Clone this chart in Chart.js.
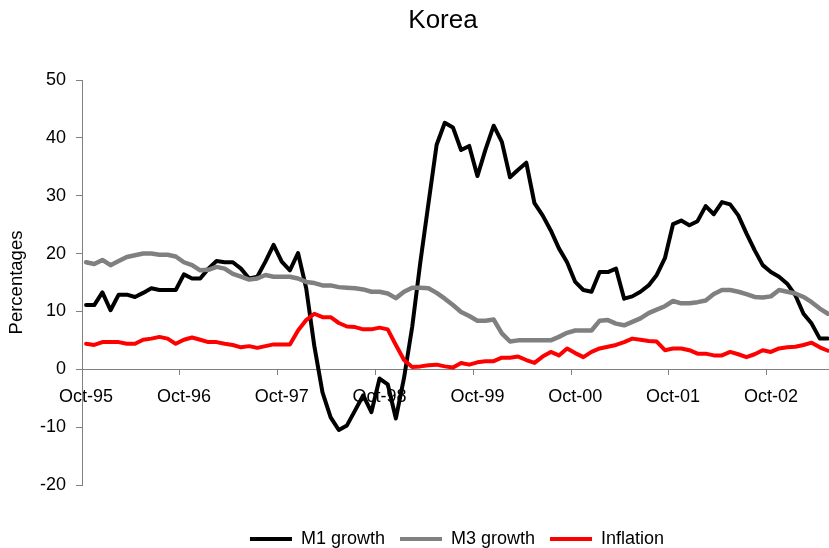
<!DOCTYPE html>
<html>
<head>
<meta charset="utf-8">
<script src="https://cdn.jsdelivr.net/npm/chart.js@4/dist/chart.umd.min.js"></script>
<style>
  html, body { margin: 0; padding: 0; background: #ffffff; overflow: hidden; }
  #wrap { width: 840px; height: 548px; }
</style>
</head>
<body>
<div id="wrap"><canvas id="c" width="840" height="548"></canvas></div>
<script>
const chartTitle = 'Korea';
const yAxisTitle = 'Percentages';

const categories = [
  'Oct-95','Nov-95','Dec-95',
  'Jan-96','Feb-96','Mar-96','Apr-96','May-96','Jun-96','Jul-96','Aug-96','Sep-96','Oct-96','Nov-96','Dec-96',
  'Jan-97','Feb-97','Mar-97','Apr-97','May-97','Jun-97','Jul-97','Aug-97','Sep-97','Oct-97','Nov-97','Dec-97',
  'Jan-98','Feb-98','Mar-98','Apr-98','May-98','Jun-98','Jul-98','Aug-98','Sep-98','Oct-98','Nov-98','Dec-98',
  'Jan-99','Feb-99','Mar-99','Apr-99','May-99','Jun-99','Jul-99','Aug-99','Sep-99','Oct-99','Nov-99','Dec-99',
  'Jan-00','Feb-00','Mar-00','Apr-00','May-00','Jun-00','Jul-00','Aug-00','Sep-00','Oct-00','Nov-00','Dec-00',
  'Jan-01','Feb-01','Mar-01','Apr-01','May-01','Jun-01','Jul-01','Aug-01','Sep-01','Oct-01','Nov-01','Dec-01',
  'Jan-02','Feb-02','Mar-02','Apr-02','May-02','Jun-02','Jul-02','Aug-02','Sep-02','Oct-02','Nov-02','Dec-02',
  'Jan-03','Feb-03','Mar-03','Apr-03','May-03'
];

const m1Growth = [
  11.1, 11.1, 13.3, 10.2, 12.9, 12.9, 12.5, 13.2, 14.0, 13.7, 13.7, 13.7,
  16.4, 15.7, 15.7, 17.4, 18.7, 18.5, 18.5, 17.4, 15.7, 16.0, 18.6, 21.5,
  18.6, 17.1, 20.1, 14.0, 4.0, -4.0, -8.3, -10.5, -9.7, -7.1, -4.5, -7.4,
  -1.6, -2.6, -8.5, -1.5, 7.3, 18.5, 28.7, 38.8, 42.6, 41.8, 37.9, 38.6,
  33.4, 38.0, 42.1, 39.3, 33.2, 34.5, 35.7, 28.7, 26.6, 24.0, 20.9, 18.5,
  15.1, 13.7, 13.4, 16.8, 16.8, 17.4, 12.2, 12.6, 13.4, 14.5, 16.3, 19.2,
  25.1, 25.7, 24.9, 25.6, 28.2, 26.8, 28.9, 28.5, 26.6, 23.5, 20.6, 18.0,
  16.8, 16.0, 14.8, 12.8, 9.6, 7.9, 5.3, 5.3
];

const m3Growth = [
  18.5, 18.2, 18.9, 18.0, 18.7, 19.4, 19.7, 20.0, 20.0, 19.8, 19.8, 19.5,
  18.5, 18.0, 17.1, 17.2, 17.7, 17.4, 16.5, 16.0, 15.5, 15.7, 16.3, 16.0,
  16.0, 16.0, 15.7, 15.1, 14.9, 14.5, 14.5, 14.2, 14.1, 14.0, 13.8, 13.4,
  13.4, 13.1, 12.3, 13.4, 14.1, 14.1, 14.0, 13.2, 12.2, 11.1, 9.9, 9.2,
  8.4, 8.4, 8.6, 6.2, 4.8, 5.0, 5.0, 5.0, 5.0, 5.0, 5.6, 6.3,
  6.7, 6.7, 6.7, 8.4, 8.5, 7.9, 7.6, 8.2, 8.8, 9.7, 10.3, 10.9,
  11.8, 11.4, 11.4, 11.6, 11.9, 13.0, 13.7, 13.7, 13.4, 13.0, 12.5, 12.4,
  12.6, 13.7, 13.4, 13.1, 12.5, 11.6, 10.5, 9.6
];

const inflation = [
  4.4, 4.2, 4.7, 4.7, 4.7, 4.4, 4.4, 5.1, 5.3, 5.6, 5.3, 4.4,
  5.1, 5.5, 5.1, 4.7, 4.7, 4.4, 4.2, 3.8, 4.0, 3.7, 4.0, 4.3,
  4.3, 4.3, 6.7, 8.5, 9.6, 9.0, 9.0, 8.0, 7.4, 7.3, 6.9, 6.9,
  7.2, 6.9, 4.2, 1.6, 0.4, 0.5, 0.7, 0.8, 0.5, 0.3, 1.1, 0.8,
  1.2, 1.4, 1.4, 2.0, 2.0, 2.2, 1.6, 1.1, 2.2, 3.0, 2.4, 3.6,
  2.8, 2.1, 3.0, 3.6, 3.9, 4.2, 4.7, 5.3, 5.1, 4.9, 4.8, 3.3,
  3.6, 3.6, 3.3, 2.7, 2.7, 2.4, 2.4, 3.0, 2.6, 2.1, 2.6, 3.3,
  3.0, 3.6, 3.8, 3.9, 4.2, 4.6, 3.8, 3.2
];

const yMin = -20, yMax = 50, yStep = 10;
const labelEvery = 12;

const FONT_FAMILY = '"Liberation Sans", Arial, Helvetica, sans-serif';
const AXIS_GRAY = '#808080';

const titlePlugin = {
  id: 'koreaTitle',
  afterDraw(chart) {
    const ctx = chart.ctx;
    ctx.save();
    ctx.font = '26px ' + FONT_FAMILY;
    ctx.fillStyle = '#000000';
    ctx.textAlign = 'center';
    ctx.textBaseline = 'middle';
    ctx.fillText(chartTitle, 443, 21);
    ctx.restore();
  }
};

new Chart(document.getElementById('c'), {
  type: 'line',
  data: {
    labels: categories,
    datasets: [
      { label: 'M1 growth', data: m1Growth, borderColor: '#000000', backgroundColor: '#000000', borderWidth: 4, order: 3 },
      { label: 'M3 growth', data: m3Growth, borderColor: '#808080', backgroundColor: '#808080', borderWidth: 4.5, order: 2 },
      { label: 'Inflation', data: inflation, borderColor: '#ff0000', backgroundColor: '#ff0000', borderWidth: 4, order: 1 }
    ]
  },
  options: {
    responsive: false,
    animation: false,
    layout: { padding: { top: 80, left: 0, right: 0, bottom: 0 } },
    elements: {
      point: { radius: 0, hoverRadius: 0 },
      line: { tension: 0, borderJoinStyle: 'round', borderCapStyle: 'round' }
    },
    scales: {
      x: {
        type: 'category',
        position: { y: 0 },
        offset: true,
        grid: {
          offset: true,
          drawOnChartArea: false,
          drawTicks: true,
          tickLength: 5,
          tickColor: (c) => (c.index % labelEvery === 0 ? AXIS_GRAY : 'rgba(0,0,0,0)'),
          color: AXIS_GRAY
        },
        border: { display: true, color: AXIS_GRAY, width: 1 },
        ticks: {
          autoSkip: false,
          maxRotation: 0,
          minRotation: 0,
          padding: 12,
          color: '#000000',
          font: { family: FONT_FAMILY, size: 18 },
          callback: (v, i) => (i % labelEvery === 0 ? categories[i] : '')
        },
        afterFit: (s) => { s.height = 0; }
      },
      y: {
        min: yMin,
        max: yMax,
        ticks: {
          stepSize: yStep,
          padding: 10,
          color: '#000000',
          font: { family: FONT_FAMILY, size: 18 }
        },
        grid: { drawOnChartArea: false, drawTicks: true, tickLength: 6, color: AXIS_GRAY },
        border: { display: true, color: AXIS_GRAY, width: 1 },
        title: {
          display: true,
          text: yAxisTitle,
          color: '#000000',
          font: { family: FONT_FAMILY, size: 18.5 },
          padding: { top: 6, bottom: 0 }
        },
        afterFit: (s) => { s.width = 82; }
      }
    },
    plugins: {
      tooltip: { enabled: false },
      title: { display: false },
      legend: {
        position: 'bottom',
        fullSize: false,
        maxHeight: 63,
        title: { display: true, text: '', font: { size: 10 }, padding: { top: 18, bottom: 0 } },
        labels: {
          boxWidth: 42,
          boxHeight: 4,
          padding: 15,
          color: '#000000',
          font: { family: FONT_FAMILY, size: 18 },
          sort: (a, b) => a.datasetIndex - b.datasetIndex,
          generateLabels: (chart) => Chart.defaults.plugins.legend.labels.generateLabels(chart).map(l => Object.assign(l, { lineWidth: 0 }))
        }
      }
    }
  },
  plugins: [titlePlugin]
});
</script>
</body>
</html>
